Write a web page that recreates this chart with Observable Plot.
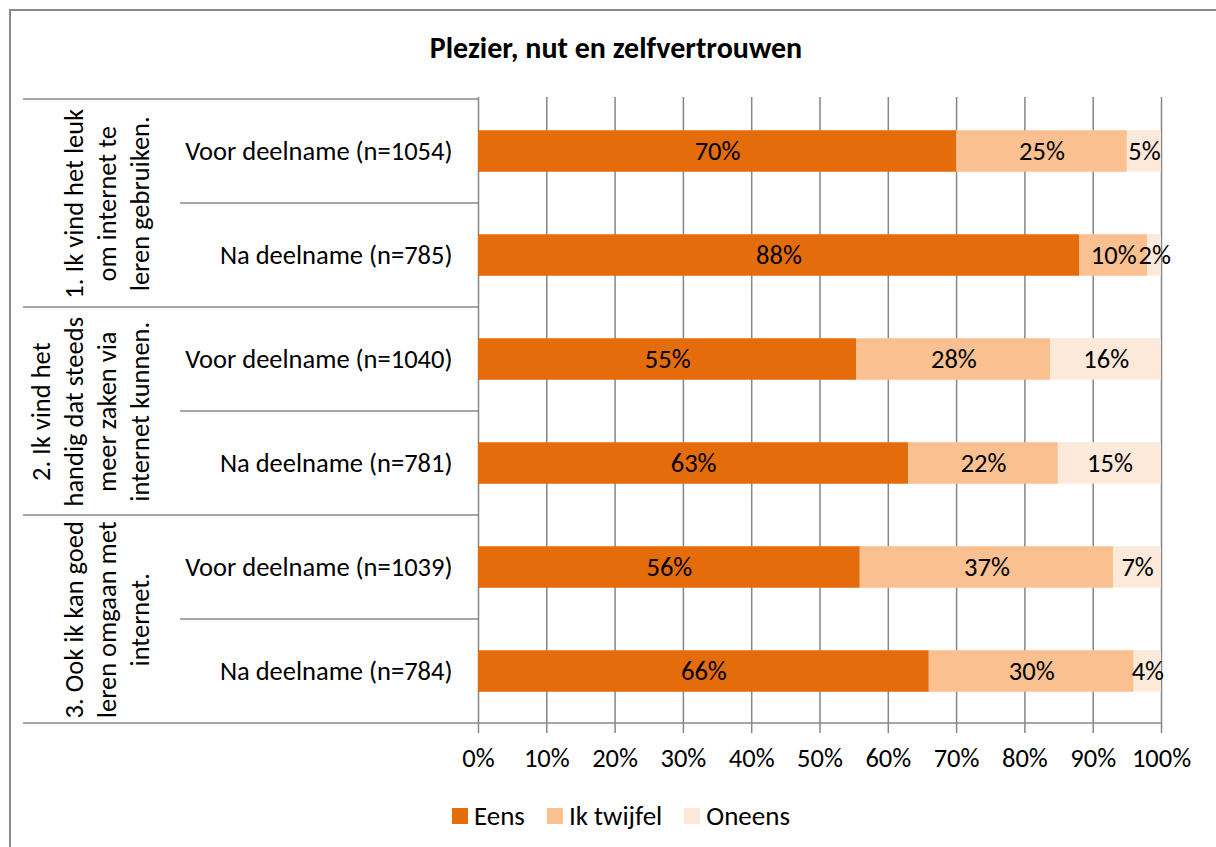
<!DOCTYPE html>
<html>
<head>
<meta charset="utf-8">
<script src="https://cdn.jsdelivr.net/npm/d3@7"></script>
<script src="https://cdn.jsdelivr.net/npm/@observablehq/plot@0.6"></script>
<style>
  html, body { margin: 0; padding: 0; background: #fff; overflow: hidden; }
  body { width: 1216px; height: 847px; position: relative; font-family: Carlito, Lato, sans-serif; }
  #border { position: absolute; left: 9px; top: 9px; width: 1300px; height: 900px; border: 2px solid #8a8a8a; box-sizing: border-box; }
  #title { position: absolute; left: 0; width: 1232px; top: 29px; line-height: 38px; text-align: center; font-weight: bold; font-size: 30px; color: #000; }
  #chart { position: absolute; left: 0; top: 80px; }
  #legend { position: absolute; left: 452px; top: 799px; height: 34px; display: flex; align-items: center; font-size: 27px; line-height: 34px; color: #000; }
  #legend .item { display: flex; align-items: center; margin-right: 22px; }
  #legend .sw { width: 16px; height: 16px; margin-right: 6px; }
</style>
</head>
<body>
<div id="border"></div>
<div id="title">Plezier, nut en zelfvertrouwen</div>
<div id="chart"></div>
<div id="legend"></div>
<script>
const FONT = "Carlito, Lato, sans-serif";

const groups = [
  "1. Ik vind het leuk\nom internet te\nleren gebruiken.",
  "2. Ik vind het\nhandig dat steeds\nmeer zaken via\ninternet kunnen.",
  "3. Ook ik kan goed\nleren omgaan met\ninternet."
];
const rows = [
  "Voor deelname (n=1054)", "Na deelname (n=785)",
  "Voor deelname (n=1040)", "Na deelname (n=781)",
  "Voor deelname (n=1039)", "Na deelname (n=784)"
];
const rowGroup = [0, 0, 1, 1, 2, 2];
const answers = ["Eens", "Ik twijfel", "Oneens"];
const eens    = [70, 88, 55.4, 63, 55.9, 66];
const twijfel = [25, 10, 28.4, 21.9, 37.1, 30];
const oneens  = [5, 2, 16.2, 15.1, 7, 4];
const xTicks  = [0, 10, 20, 30, 40, 50, 60, 70, 80, 90, 100];
const colors  = ["#E46C0A", "#FAC090", "#FDE9D9"];

const series = [eens, twijfel, oneens];
const data = [];
rows.forEach((r, i) => {
  answers.forEach((a, j) => data.push({row: r, answer: a, value: series[j][i]}));
});
const groupData = groups.map((g, k) => ({label: g, first: rows[rowGroup.indexOf(k)]}));

const FS = 26.5;
const W = 1216, H = 700, mT = 17, mB = 56, mL = 478, mR = 55;
const rowH = (H - mT - mB) / rows.length;
const barH = 42;
const inset = (rowH - barH) / 2;

const plot = Plot.plot({
  width: W, height: H,
  marginLeft: mL, marginRight: mR, marginTop: mT, marginBottom: mB,
  style: {fontFamily: FONT, fontSize: FS + "px", color: "#000", background: "transparent", overflow: "visible"},
  x: {domain: [0, 100], label: null},
  y: {domain: rows, padding: 0, label: null},
  color: {domain: answers, range: colors},
  marks: [
    Plot.gridX(xTicks, {stroke: "#868686", strokeOpacity: 1, strokeWidth: 1.5}),
    Plot.barX(data, Plot.stackX({x: "value", y: "row", fill: "answer", insetTop: inset, insetBottom: inset})),
    Plot.text(data, Plot.stackX({x: "value", y: "row", z: "answer", text: d => Math.round(d.value) + "%", fill: "#000", fontSize: FS})),
    Plot.axisX(xTicks, {tickFormat: d => d + "%", tickSize: 9, tickPadding: 15, stroke: "#868686", strokeWidth: 1.5, strokeOpacity: 1, fontSize: FS, label: null}),
    Plot.axisY({tickSize: 0, tickPadding: 26, fontSize: FS, label: null}),
    Plot.text(groupData, {y: "first", dy: rowH / 2, frameAnchor: "left", dx: -330, rotate: -90, text: "label",
      lineAnchor: "bottom", lineHeight: 1.245, textAnchor: "middle", fontSize: FS, fill: "#000"})
  ]
});
document.getElementById("chart").appendChild(plot);

// separator lines in the label area, placed from Plot's scales
const ys = plot.scale("y"), xs = plot.scale("x");
const bw = ys.bandwidth;
const x0 = xs.apply(0), x100 = xs.apply(100);
const svg = d3.select(plot);
const lines = [];
rows.forEach((r, i) => {
  const top = ys.apply(r);
  if (i % 2 === 0) lines.push({y: top, x1: 23, x2: x0});
  else lines.push({y: top, x1: 180, x2: x0});
});
lines.push({y: ys.apply(rows[rows.length - 1]) + bw, x1: 23, x2: x100});
svg.append("g").selectAll("line").data(lines).join("line")
  .attr("x1", d => d.x1).attr("x2", d => d.x2)
  .attr("y1", d => d.y).attr("y2", d => d.y)
  .attr("stroke", "#8a8a8a").attr("stroke-width", 1.5);

// legend
const leg = d3.select("#legend");
answers.forEach((a, i) => {
  const it = leg.append("div").attr("class", "item");
  it.append("div").attr("class", "sw").style("background", colors[i]);
  it.append("span").text(a);
});
</script>
</body>
</html>
